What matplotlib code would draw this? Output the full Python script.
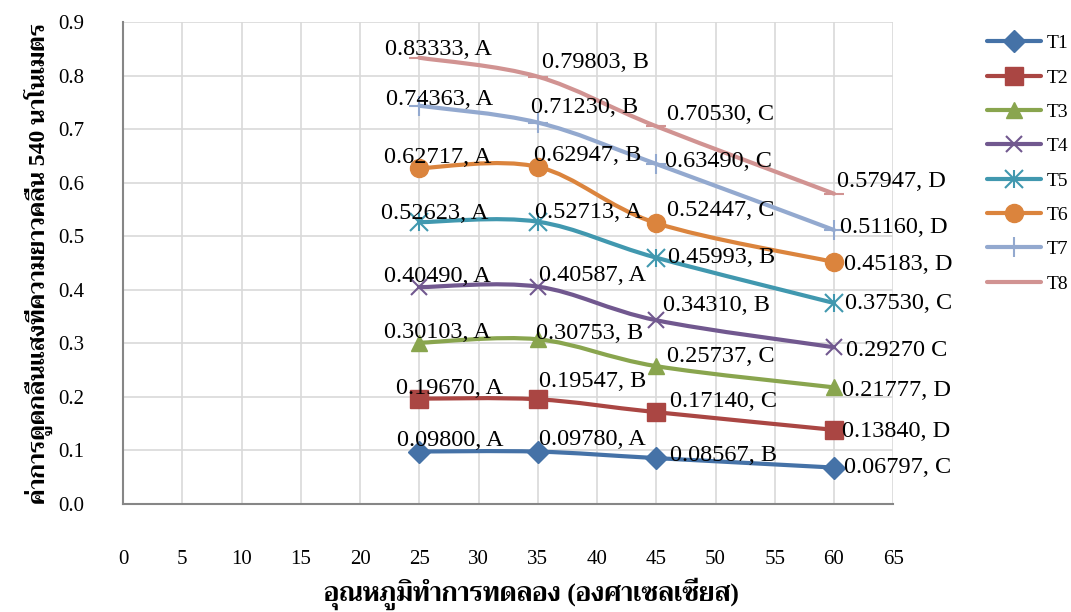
import matplotlib
matplotlib.use("Agg")
import matplotlib.pyplot as plt
from matplotlib.path import Path
from matplotlib.patches import PathPatch
from matplotlib.lines import Line2D

# Liberation Serif for Latin and digits, Trirong (installed google font) for the Thai glyphs
plt.rcParams['font.family'] = ['Liberation Serif', 'Trirong', 'DejaVu Sans']

temps = [25, 35, 45, 60]
series_names = ["T1", "T2", "T3", "T4", "T5", "T6", "T7", "T8"]
t1 = [0.09800, 0.09780, 0.08567, 0.06797]
t2 = [0.19670, 0.19547, 0.17140, 0.13840]
t3 = [0.30103, 0.30753, 0.25737, 0.21777]
t4 = [0.40490, 0.40587, 0.34310, 0.29270]
t5 = [0.52623, 0.52713, 0.45993, 0.37530]
t6 = [0.62717, 0.62947, 0.52447, 0.45183]
t7 = [0.74363, 0.71230, 0.63490, 0.51160]
t8 = [0.83333, 0.79803, 0.70530, 0.57947]
groups = [["A", "A", "B", "C"], ["A", "B", "C", "D"], ["A", "B", "C", "D"],
          ["A", "A", "B", "C"], ["A", "A", "B", "C"], ["A", "B", "C", "D"],
          ["A", "B", "C", "D"], ["A", "B", "C", "D"]]
values = [t1, t2, t3, t4, t5, t6, t7, t8]

colors = ["#4572A7", "#AA4643", "#89A54E", "#71588F", "#4198AF", "#DB843D", "#93A9CF", "#D19392"]
# T5 is Excel's star marker: an x with a vertical bar through it
markers = [["D"], ["s"], ["^"], ["x"], ["x", "|"], ["o"], ["+"], ["_"]]
msizes = [11, 13, 12, 12, 13, 13, 14, 14]
# label offsets in pixels (left edge / vertical centre of text), hand-placed like the original
offsets = [[(-22, 11), (1, 12), (14, 3), (10, 0)],
           [(-23, 10), (1, 18), (14, 11), (8, -2)],
           [(-35, 10), (-2, 6), (11, 10), (8, -3)],
           [(-35, 11), (1, 11), (7, 15), (12, -3)],
           [(-38, 9), (-3, 9), (12, 0), (11, 0)],
           [(-35, 11), (-4, 11), (11, 13), (10, -2)],
           [(-33, 6), (-7, 15), (9, 2), (6, 3)],
           [(-34, 8), (4, 14), (11, 12), (3, 12)]]


def smooth_path(xs, ys):
    # Excel-style smoothed line: cubic Bezier through every point
    pts = list(zip(xs, ys))
    verts, codes = [pts[0]], [Path.MOVETO]
    for i in range(len(pts) - 1):
        p0 = pts[max(i - 1, 0)]; p1 = pts[i]; p2 = pts[i + 1]; p3 = pts[min(i + 2, len(pts) - 1)]
        c1 = (p1[0] + (p2[0] - p0[0]) / 6, p1[1] + (p2[1] - p0[1]) / 6)
        c2 = (p2[0] - (p3[0] - p1[0]) / 6, p2[1] - (p3[1] - p1[1]) / 6)
        verts += [c1, c2, p2]; codes += [Path.CURVE4] * 3
    return Path(verts, codes)


fig = plt.figure(figsize=(10.71, 6.12), dpi=100)
ax = fig.add_axes([0.115, 0.1765, 0.719, 0.7875])

handles = []
for k, (name, ys) in enumerate(zip(series_names, values)):
    ax.add_patch(PathPatch(smooth_path(temps, ys), fill=False, edgecolor=colors[k], lw=3, capstyle='round', zorder=3 + k))
    parts = [Line2D([], [], color=colors[k], lw=3, solid_capstyle='round')]
    for m in markers[k]:
        mew = 1.5 if m in ("x", "+", "_", "|") else 1
        ax.plot(temps, ys, linestyle='none', marker=m, ms=msizes[k], color=colors[k], mew=mew, zorder=3 + k)
        parts.append(Line2D([], [], linestyle='none', marker=m, ms=msizes[k], color=colors[k], mew=mew))
    handles.append(tuple(parts))
    for j, (x, y) in enumerate(zip(temps, ys)):
        sep = " " if (k == 3 and j == 3) else ", "
        dx, dy = offsets[k][j]
        ax.annotate(f"{y:.5f}{sep}{groups[k][j]}", (x, y), xytext=(dx, dy), textcoords='offset pixels',
                    ha='left', va='center', fontsize=17.5, zorder=20)

ax.set_xlim(0, 65)
ax.set_ylim(0, 0.9)
ax.set_xticks(range(0, 66, 5))
ax.set_yticks([i / 10 for i in range(10)])
ax.set_yticklabels([f"{i / 10:.1f}" for i in range(10)])
ax.grid(True, color="#D9D9D9", lw=1.2)
ax.set_axisbelow(True)
for s in ("top", "right"):
    ax.spines[s].set_visible(False)
for s in ("left", "bottom"):
    ax.spines[s].set_color("#868686"); ax.spines[s].set_linewidth(1.5)
ax.tick_params(axis='x', length=0, pad=33, labelsize=15)
ax.tick_params(axis='y', length=0, pad=28, labelsize=15)
ax.set_xlabel("อุณหภูมิทำการทดลอง (องศาเซลเซียส)", fontsize=18.5, fontweight='bold', labelpad=6)
ax.xaxis.label.set_x(0.53)
ax.set_ylabel("ค่าการดูดกลืนแสงที่ความยาวคลื่น 540 นาโนเมตร", fontsize=17, fontweight='bold', labelpad=4)

fig.legend(handles, series_names, loc='upper left', bbox_to_anchor=(0.905, 0.972), frameon=False,
           fontsize=14, handlelength=2.8, labelspacing=0.86, handletextpad=0.3)

fig.savefig("out.png", dpi=100)
